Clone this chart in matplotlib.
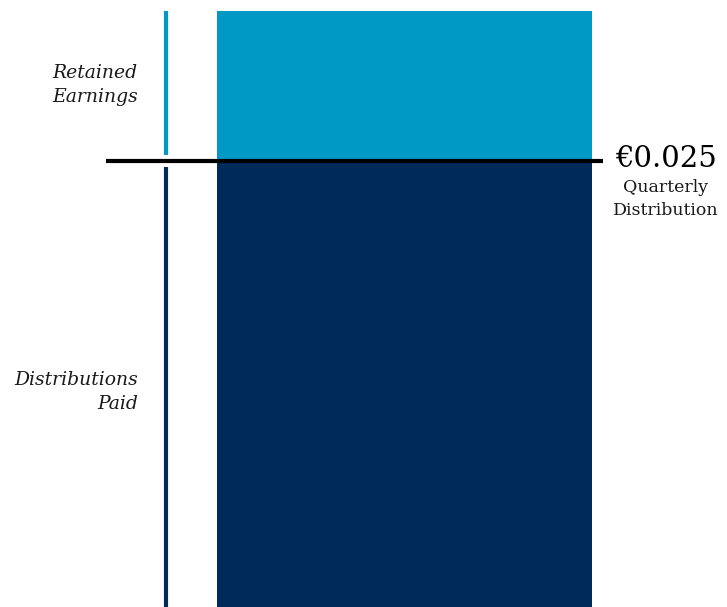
import matplotlib
matplotlib.use("Agg")
import matplotlib.pyplot as plt

# Data
categories = ["Quarter"]
distributions_paid = [0.025]
retained_earnings = [0.0084]
segment_labels = ["Distributions\nPaid", "Retained\nEarnings"]
distribution_label = "€0.025"
distribution_caption = "Quarterly\nDistribution"

dark = "#002A5A"
light = "#0099C5"

fig = plt.figure(figsize=(7.27, 6.07), dpi=100)
ax = fig.add_axes([0, 0, 1, 1])
ax.set_xlim(-1.0787, 0.86)
ax.set_ylim(0, 0.03402)
ax.axis("off")

x = list(range(len(categories)))
ax.bar(x, distributions_paid, width=1.0, color=dark)
ax.bar(x, retained_earnings, width=1.0, bottom=distributions_paid, color=light)

d = distributions_paid[0]
r = retained_earnings[0]
gap = 0.00035
vx = -0.636
ax.plot([vx, vx], [0, d - gap], color=dark, lw=3, solid_capstyle="butt")
ax.plot([vx, vx], [d + gap, d + r], color=light, lw=3, solid_capstyle="butt")
ax.plot([-0.796, 0.529], [d, d], color="black", lw=3, solid_capstyle="butt")

serif = ["DejaVu Serif"]
ax.text(-0.711, d + r / 2 + 0.00006, segment_labels[1], ha="right", va="center",
        fontsize=13.5, style="italic", family=serif, color="#1a1a1a", linespacing=1.47)
ax.text(-0.711, d * 0.482, segment_labels[0], ha="right", va="center",
        fontsize=13.5, style="italic", family=serif, color="#1a1a1a", linespacing=1.47)
ax.text(0.697, d + 0.0001, distribution_label, ha="center", va="center",
        fontsize=21, family=serif, color="black")
ax.text(0.697, d - 0.00213, distribution_caption, ha="center", va="center",
        fontsize=12.5, family=serif, color="#1a1a1a", linespacing=1.47)

fig.savefig("out.png", dpi=100)
